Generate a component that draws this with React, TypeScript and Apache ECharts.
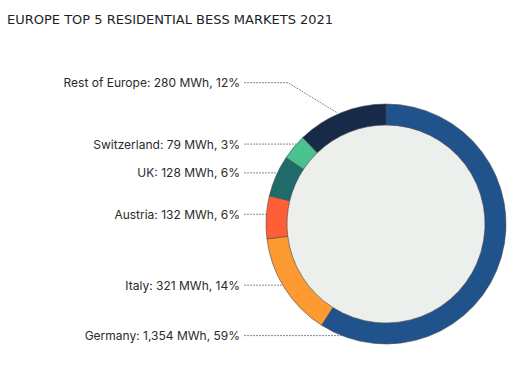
import { useEffect, useRef } from 'react';
import * as echarts from 'echarts';

const titleText = 'EUROPE TOP 5 RESIDENTIAL BESS MARKETS 2021';
const markets = ['Germany', 'Italy', 'Austria', 'UK', 'Switzerland', 'Rest of Europe'];
const capacityMWh = [1354, 321, 132, 128, 79, 280];
const sharePct = [59, 14, 6, 6, 3, 12];
const sliceColors = ['#20528C', '#FD9A32', '#FF5F36', '#1F6B69', '#48C28E', '#172B48'];

const CX = 386;
const CY = 224;
const R_OUT = 120;
const R_IN = 99;
const LABEL_RIGHT = 240;

const fmt = (v: number) => v.toLocaleString('en-US');

export default function App() {
  const ref = useRef<HTMLDivElement>(null);
  useEffect(() => {
    if (!ref.current) return;
    const chart = echarts.init(ref.current, null, { renderer: 'svg' });
    const total = capacityMWh.reduce((a, b) => a + b, 0);
    let cum = 0;
    const mids = capacityMWh.map((v) => {
      const m = cum + v / 2;
      cum += v;
      return (m / total) * Math.PI * 2;
    });
    const data = markets.map((name, i) => ({
      name,
      value: capacityMWh[i],
      itemStyle: { color: sliceColors[i] },
    }));
    chart.setOption({
      animation: false,
      title: {
        text: titleText,
        left: 2,
        top: 8,
        textStyle: { fontFamily: 'DejaVu Sans', fontSize: 13, fontWeight: 'normal', color: '#1d1d2b' },
      },
      graphic: [
        {
          type: 'circle',
          shape: { cx: CX, cy: CY, r: R_IN },
          style: { fill: '#EDEFEC' },
          z: 0,
          silent: true,
        },
      ],
      series: [
        {
          type: 'pie',
          center: [CX, CY],
          radius: [R_IN, R_OUT],
          startAngle: 90,
          clockwise: true,
          z: 2,
          itemStyle: { borderColor: '#4a4a4a', borderWidth: 0.6 },
          emphasis: { disabled: true },
          label: {
            show: true,
            position: 'outside',
            width: 260,
            fontFamily: 'Inter',
            fontSize: 12,
            color: '#2a2a2a',
            formatter: (p: any) => `${p.name}: ${fmt(p.value)} MWh, ${sharePct[p.dataIndex]}%`,
          },
          labelLine: {
            show: true,
            length: 10,
            length2: 10,
            lineStyle: { color: '#8a8a8a', width: 1, type: [2, 1] },
          },
          labelLayout: (params: any) => {
            const i = params.dataIndex;
            const th = mids[i];
            const my = CY - R_OUT * Math.cos(th);
            let y: number;
            if (i === 0) y = CY + R_OUT * 0.93;
            else if (i === markets.length - 1) y = my - 30;
            else y = my - 3;
            const xs = LABEL_RIGHT + 4;
            let pts: number[][];
            if (i === markets.length - 1) {
              const px = CX + R_OUT * Math.sin(th);
              pts = [[xs, y], [xs + 44, y], [px - 4, my]];
            } else {
              const ex = CX - Math.sqrt(R_OUT * R_OUT - (y - CY) * (y - CY));
              pts = [[xs, y], [(xs + ex) / 2, y], [ex, y]];
            }
            return { x: LABEL_RIGHT, y, align: 'right', verticalAlign: 'middle', labelLinePoints: pts };
          },
          data,
        },
      ],
    });
    return () => chart.dispose();
  }, []);
  return (
    <div
      ref={ref}
      style={{ position: 'absolute', left: 0, top: 0, width: 526, height: 370, background: '#fff' }}
    />
  );
}
